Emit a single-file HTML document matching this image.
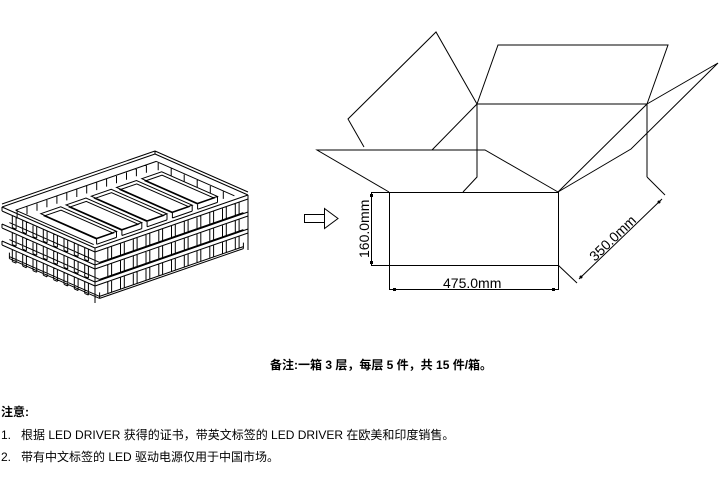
<!DOCTYPE html>
<html><head><meta charset="utf-8">
<style>
html,body{margin:0;padding:0;background:#fff;}
body{width:723px;height:503px;position:relative;overflow:hidden;font-family:"Liberation Sans","Noto Sans CJK SC",sans-serif;color:#000;}
.t{position:absolute;font-size:12px;white-space:nowrap;line-height:14px;}
</style></head>
<body>
<svg id="s" width="723" height="503" style="position:absolute;left:0;top:0" xmlns="http://www.w3.org/2000/svg">
<g stroke="#000" stroke-width="1" fill="none">
<rect x="389.5" y="192.5" width="169" height="73"/>
<polyline points="389,192 317,150 485,150 558,192"/>
<polyline points="364,147 348,119 436,32 477,104"/>
<line x1="477" y1="104" x2="432" y2="150"/>
<polyline points="477,104 498,45 668,45 647,104"/>
<line x1="477" y1="104" x2="647" y2="104"/>
<polyline points="477,104 477,177 463,192"/>
<polyline points="647,104 718,63 631,149 558,192"/>
<line x1="647" y1="104" x2="558" y2="192"/>
<line x1="647" y1="104" x2="647" y2="177"/>
<line x1="371" y1="192.5" x2="389" y2="192.5"/>
<line x1="371" y1="265.5" x2="389" y2="265.5"/>
<line x1="371.5" y1="192" x2="371.5" y2="265"/>
<line x1="389.5" y1="265" x2="389.5" y2="290"/>
<line x1="558.5" y1="265" x2="558.5" y2="290"/>
<line x1="389" y1="289.5" x2="558" y2="289.5"/>
<line x1="558" y1="265" x2="577" y2="283"/>
<line x1="647" y1="177" x2="665" y2="195"/>
<line x1="579" y1="279" x2="662" y2="199"/>
<rect x="304.5" y="214.5" width="20" height="8"/>
<polygon points="324.5,208.5 338,218.5 324.5,228.5"/>
</g>
<g fill="#000">
<rect x="370" y="194" width="3" height="3"/><rect x="370" y="261" width="3" height="3"/>
<rect x="393" y="288" width="3" height="3"/><rect x="552" y="288" width="3" height="3"/>
<circle cx="581" cy="277" r="1.5"/><circle cx="659" cy="202" r="1.5"/>
</g>
<g font-family="Liberation Sans, sans-serif" font-size="14" fill="#000">
<text x="443" y="288">475.0mm</text>
<text transform="translate(369,258) rotate(-90)">160.0mm</text>
<text transform="translate(595,262) rotate(-44)">350.0mm</text>
</g>
<g id="tray" stroke="#000" stroke-width="1" fill="none"></g>
</svg>
<div class="t" style="left:270px;top:358px;font-weight:bold;">备注:一箱 3 层，每层 5 件，共 15 件/箱。</div>
<div class="t" style="left:1px;top:405px;font-weight:bold;">注意:</div>
<div class="t" style="left:1px;top:428px;">1.&nbsp;&nbsp; 根据 LED DRIVER 获得的证书，带英文标签的 LED DRIVER 在欧美和印度销售。</div>
<div class="t" style="left:1px;top:450px;">2.&nbsp;&nbsp; 带有中文标签的 LED 驱动电源仅用于中国市场。</div>
<script>
(function(){
var g=document.getElementById('tray'),NS='http://www.w3.org/2000/svg',d='';
function L(a,b,c,e){d+='M'+a.toFixed(1)+' '+b.toFixed(1)+'L'+c.toFixed(1)+' '+e.toFixed(1);}
var Lx=2,Ly=207,U=[153,-53],V=[93,41],H=17;
function P(u,v,dy){return [Lx+u*U[0]+v*V[0],Ly+u*U[1]+v*V[1]+dy];}
for(var k=0;k<3;k++){
 var o=k*H;
 var a=P(0,0,o),b=P(1,0,o),c=P(1,1,o),f=P(0,1,o);
 if(k==0){L(a[0],a[1],b[0],b[1]);L(b[0],b[1],c[0],c[1]);L(b[0],b[1]-3,c[0],c[1]-3);L(a[0],a[1]-3,b[0],b[1]-3);L(b[0],b[1]-3,b[0],b[1]);}
 [0,4].forEach(function(t){L(a[0],a[1]+t,f[0],f[1]+t);L(f[0],f[1]+t,c[0],c[1]+t);});
 L(a[0],a[1],a[0],a[1]+4);L(f[0],f[1],f[0],f[1]+H+4);L(c[0],c[1],c[0],c[1]+H+4);
 var bo=o+H-1;var a2=P(0.03,0.03,bo),f2=P(0.03,1,bo),c2=P(0.97,1,bo);
 L(a2[0],a2[1],f2[0],f2[1]);L(f2[0],f2[1],c2[0],c2[1]);
 for(var i=1;i<9;i++){var p=P(0,i/9,o+4);L(p[0],p[1],p[0],p[1]+H-5);var q=P(0,i/9+0.04,o+4);L(q[0],q[1],q[0],q[1]+H-5);L(p[0],p[1]+H-5,q[0],q[1]+H-5);}
 for(var i=1;i<12;i++){var p=P(i/12,1,o+4);L(p[0],p[1],p[0],p[1]+H-5);var q=P(i/12+0.025,1,o+4);L(q[0],q[1],q[0],q[1]+H-5);L(p[0],p[1]+H-5,q[0],q[1]+H-5);}
}
var z=P(0.03,0.03,3*H+1),y=P(0.03,1,3*H+1),x=P(0.97,1,3*H+1);L(z[0],z[1],y[0],y[1]);L(y[0],y[1],x[0],x[1]);
L(z[0],z[1]-6,z[0],z[1]);L(y[0],y[1]-6,y[0],y[1]);L(x[0],x[1]-6,x[0],x[1]);
var i1=P(0.04,0.08,2),i2=P(0.96,0.08,2),i3=P(0.96,0.92,2),i4=P(0.04,0.92,2);
L(i1[0],i1[1],i2[0],i2[1]);L(i2[0],i2[1],i3[0],i3[1]);L(i1[0],i1[1],i4[0],i4[1]);
for(var i=0;i<14;i++){var p=P(0.05+i*0.065,0.08,2);L(p[0],p[1],p[0],p[1]+8);}
for(var i=0;i<6;i++){var p=P(0.96,0.1+i*0.14,2);L(p[0],p[1],p[0],p[1]+8);}
for(var n=0;n<5;n++){
 var u0=0.12+n*0.165,u1=u0+0.13;
 var p1=P(u0,0.22,4),p2=P(u1,0.22,4),p3=P(u1,0.82,4),p4=P(u0,0.82,4);
 d+='M'+p1+'L'+p2+'L'+p3+'L'+p4+'Z';
 var q1=P(u0+0.01,0.24,6),q2=P(u1-0.01,0.24,6),q3=P(u1-0.01,0.8,6),q4=P(u0+0.01,0.8,6);
 d+='M'+q1+'L'+q2+'L'+q3+'L'+q4+'Z';
 L(p3[0],p3[1],p3[0],p3[1]+6);L(p4[0],p4[1],p4[0],p4[1]+6);L(p4[0],p4[1]+6,p3[0],p3[1]+6);
}
var e=document.createElementNS(NS,'path');e.setAttribute('d',d);g.appendChild(e);
})();
</script>
</body></html>
